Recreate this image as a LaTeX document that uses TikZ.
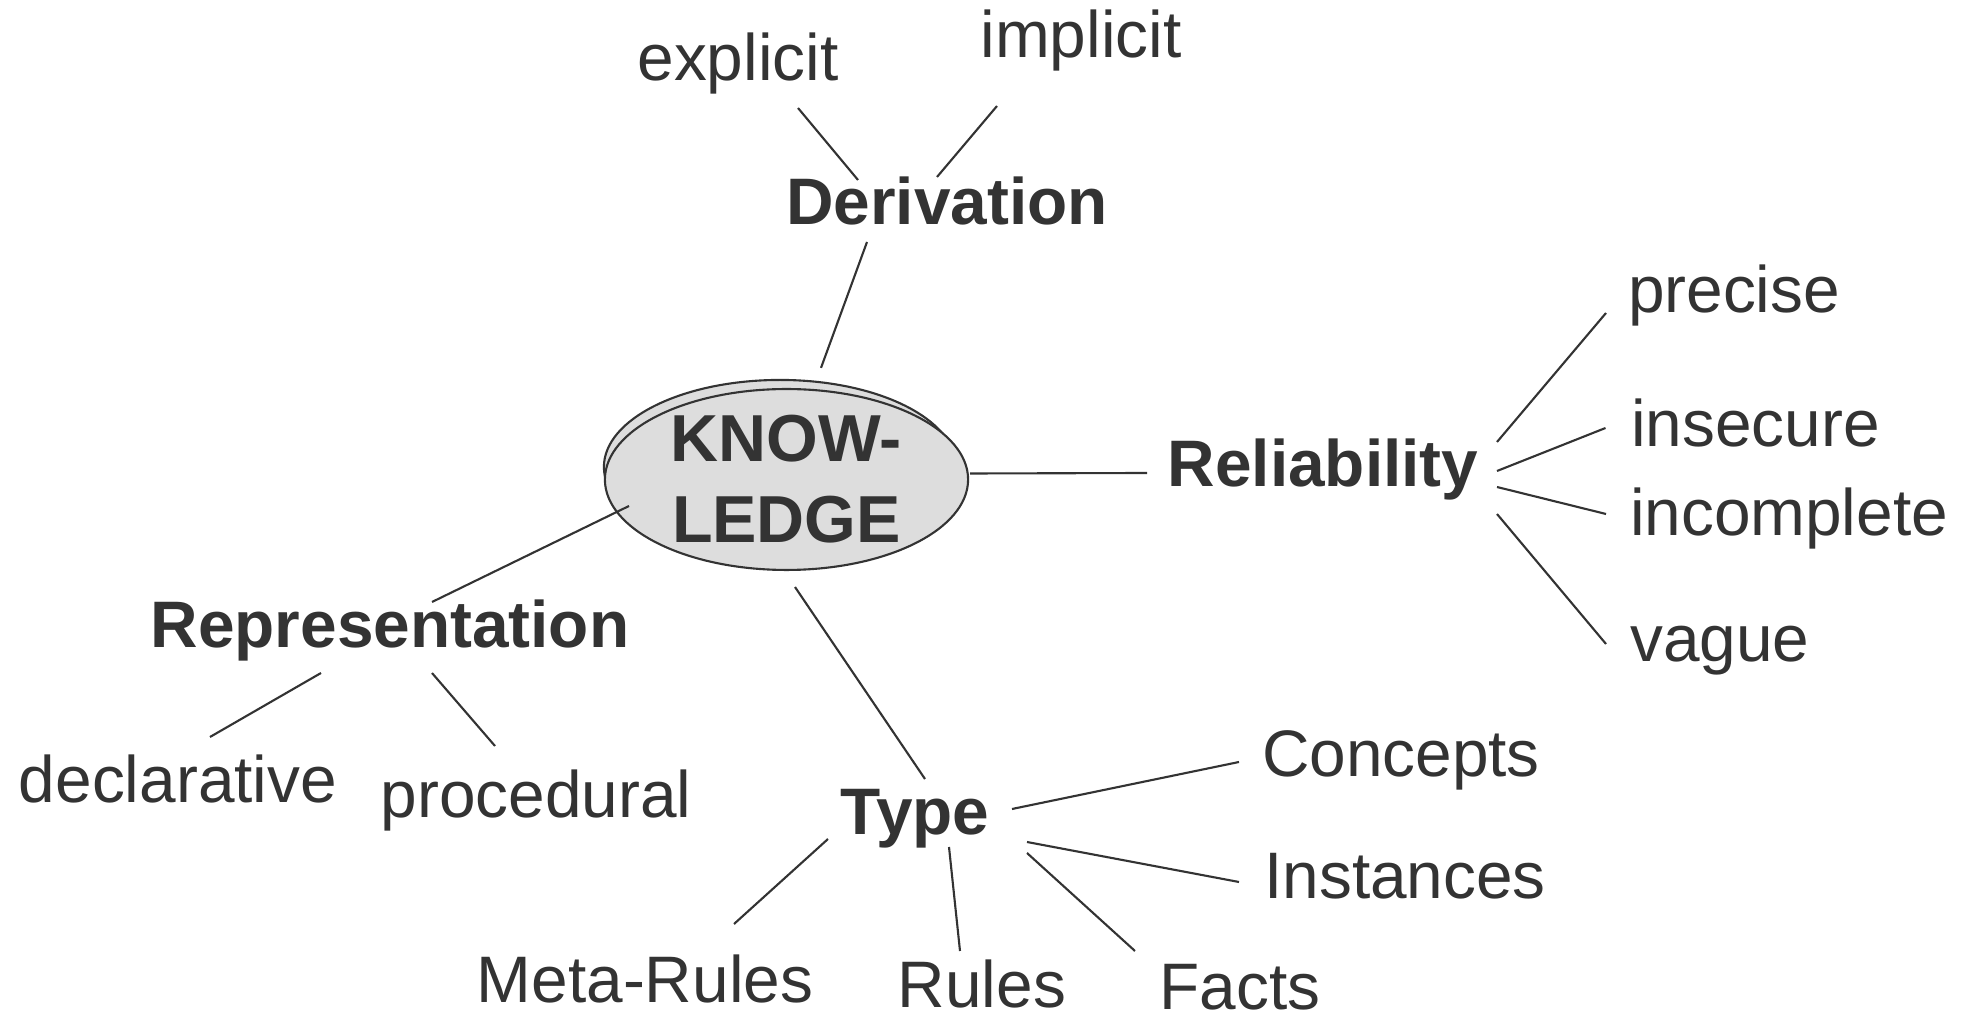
\documentclass[tikz,border=0pt]{standalone}
\usepackage{fontspec}
\setmainfont{Liberation Sans}
\usepackage{tikz}
\usetikzlibrary{shapes.geometric,calc,positioning}

\definecolor{ink}{HTML}{333333}
\definecolor{blob}{HTML}{DDDDDD}

\tikzset{
  leaf/.style={anchor=base, text=ink, inner sep=0pt, font=\fontsize{18.7}{23}\selectfont},
  branch/.style={leaf, font=\fontsize{18.7}{23}\selectfont\bfseries},
  blobby/.style={ellipse, draw=ink, fill=blob, line width=0.6pt, inner sep=0pt},
  link/.style={draw=ink, line width=0.6pt}
}

\begin{document}
\begin{tikzpicture}[x=0.01cm, y=-0.01cm]
          \useasboundingbox (0,0) rectangle (1975,1019);

          \node[blobby, minimum width=3.52cm, minimum height=1.74cm] (back) at (780,467) {};
          \node[blobby, minimum width=3.63cm, minimum height=1.75cm, text=ink, align=center,
                font=\fontsize{18.9}{23}\selectfont\bfseries] (know) at (786.5,479.5) {KNOW-\\LEDGE};

          \node[branch] (der) at (947,225) {Derivation};
          \node[branch] (rel) at (1323,487) {Reliability};
          \node[branch] (repr) at (390,648) {Representation};
          \node[branch] (type) at (915,835) {Type};

          \node[leaf] (expl) at (738,81) {explicit};
          \node[leaf] (impl) at (1081,58) {implicit};
          \node[leaf] (prec) at (1734,313) {precise};
          \node[leaf] (insec) at (1755.5,447) {insecure};
          \node[leaf] (incomp) at (1789,536) {incomplete};
          \node[leaf] (vague) at (1720,662) {vague};
          \node[leaf] (decl) at (178,803) {declarative};
          \node[leaf] (proc) at (536,818) {procedural};
          \node[leaf] (conc) at (1401,777) {Concepts};
          \node[leaf] (inst) at (1405,899) {Instances};
          \node[leaf] (meta) at (645,1002) {Meta-Rules};
          \node[leaf] (rules) at (982,1008) {Rules};
          \node[leaf] (facts) at (1240,1010) {Facts};

          \draw[link] ($(expl.base)+(60,27)$) -- ($(der.base)+(-89,-45)$);
          \draw[link] ($(impl.base)+(-84,48)$) -- ($(der.base)+(-10,-48)$);
          \draw[link] ($(der.base)+(-80,17)$) -- ($(back.north)+(41,-11)$);

          \draw[link] ($(know.east)+(1,-6)$) -- ($(rel.base)+(-176,-14)$);
          \draw[link] ($(rel.base)+(174,-45)$) -- ($(prec.base)+(-128,0)$);
          \draw[link] ($(rel.base)+(174,-16)$) -- ($(insec.base)+(-150,-19)$);
          \draw[link] ($(rel.base)+(174,0)$) -- ($(incomp.base)+(-183,-22)$);
          \draw[link] ($(rel.base)+(174,27)$) -- ($(vague.base)+(-114,-18)$);

          \draw[link] ($(know.center)+(-157.5,26.5)$) -- ($(repr.base)+(42,-46)$);
          \draw[link] ($(repr.base)+(-69,25)$) -- ($(decl.base)+(32,-66)$);
          \draw[link] ($(repr.base)+(42,25)$) -- ($(proc.base)+(-41,-72)$);

          \draw[link] ($(know.south)+(8.5,16)$) -- ($(type.base)+(10,-56)$);
          \draw[link] ($(type.base)+(97,-26)$) -- ($(conc.base)+(-162,-15)$);
          \draw[link] ($(type.base)+(112,7)$) -- ($(inst.base)+(-166,-17)$);
          \draw[link] ($(type.base)+(-87,4)$) -- ($(meta.base)+(89,-78)$);
          \draw[link] ($(type.base)+(34,12)$) -- ($(rules.base)+(-22,-57)$);
          \draw[link] ($(type.base)+(112,18)$) -- ($(facts.base)+(-105,-59)$);
        \end{tikzpicture}
\end{document}
